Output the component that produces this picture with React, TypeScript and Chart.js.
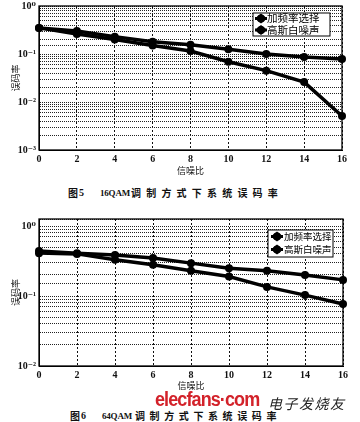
import React, { useEffect, useRef } from 'react';
import { Chart, registerables } from 'chart.js';
Chart.register(...registerables);

// ---- data ----
const snrValues = [0, 2, 4, 6, 8, 10, 12, 14, 16];
const seriesNames = ['加频率选择', '高斯白噪声'];
const ber16Freq = [0.35, 0.3, 0.23, 0.18, 0.155, 0.126, 0.1, 0.087, 0.079];
const ber16Awgn = [0.35, 0.26, 0.2, 0.15, 0.115, 0.069, 0.045, 0.026, 0.0051];
const ber64Freq = [0.44, 0.41, 0.385, 0.35, 0.295, 0.25, 0.23, 0.2, 0.17];
const ber64Awgn = [0.41, 0.4, 0.33, 0.28, 0.23, 0.19, 0.135, 0.103, 0.077];
const decadeValues = [1, 0.1, 0.01, 0.001];
const decadeLabels = ['10⁰', '10⁻¹', '10⁻²', '10⁻³'];
const xTitle = '信噪比';
const yTitle = '误码率';
const caption5 = ['图', '5', '16QAM', '调制方式下系统误码率'];
const caption6 = ['图', '6', '64QAM', '调制方式下系统误码率'];
const watermarkLatin = 'elecfans·com';
const watermarkCjk = '电子发烧友';

const serif = '"Liberation Serif", "DejaVu Serif", serif';
const cjk = '"Noto Sans CJK SC", sans-serif';

function decadeLabel(v: number) {
  const i = decadeValues.findIndex((d) => Math.abs(v - d) / d < 1e-6);
  return i >= 0 ? decadeLabels[i] : '';
}

const framePlugin = {
  id: 'frame',
  afterDatasetsDraw(chart: any) {
    const { ctx, chartArea: a } = chart;
    ctx.save();
    ctx.strokeStyle = '#000';
    ctx.lineWidth = 1.3;
    ctx.strokeRect(a.left, a.top, a.right - a.left, a.bottom - a.top);
    ctx.restore();
  },
};

type LegendOpts = {
  inset: number; dy: number; w: number; h: number;
  rows: number[]; mx: number; tx: number; font: number;
};

function makeLegendPlugin(o: LegendOpts) {
  return {
    id: 'boxLegend',
    afterDraw(chart: any) {
      const { ctx, chartArea: a } = chart;
      const x = a.right - o.inset - o.w;
      const y = a.top + o.dy;
      ctx.save();
      ctx.fillStyle = '#fff';
      ctx.fillRect(x, y, o.w, o.h);
      ctx.strokeStyle = '#000';
      ctx.lineWidth = 1;
      ctx.strokeRect(x, y, o.w, o.h);
      seriesNames.forEach((name, i) => {
        const ry = y + o.rows[i];
        const mx = x + o.mx;
        ctx.strokeStyle = '#000';
        ctx.lineWidth = 3;
        ctx.beginPath();
        ctx.moveTo(mx - 6, ry);
        ctx.lineTo(mx + 6, ry);
        ctx.stroke();
        ctx.fillStyle = '#000';
        ctx.beginPath();
        ctx.moveTo(mx, ry - 5);
        ctx.lineTo(mx + 6, ry);
        ctx.lineTo(mx, ry + 5);
        ctx.lineTo(mx - 6, ry);
        ctx.closePath();
        ctx.fill();
        ctx.beginPath();
        ctx.arc(mx, ry, 4, 0, Math.PI * 2);
        ctx.fill();
        ctx.font = `${o.font}px ${cjk}`;
        ctx.textBaseline = 'middle';
        ctx.textAlign = 'left';
        ctx.fillText(name, x + o.tx, ry);
      });
      ctx.restore();
    },
  };
}

type ChartProps = {
  top: number; height: number; padTop: number; padRight: number;
  xAxisH: number; titlePadB: number; yMin: number; yMax: number;
  freq: number[]; awgn: number[]; legend: LegendOpts;
};

function BerChart(p: ChartProps) {
  const ref = useRef<HTMLCanvasElement>(null);
  useEffect(() => {
    const mk = (label: string, vals: number[]) => ({
      label,
      data: snrValues.map((x, i) => ({ x, y: vals[i] })),
      borderColor: '#000',
      backgroundColor: '#000',
      borderWidth: 3.5,
      pointRadius: 4,
      pointBorderWidth: 0,
      pointBackgroundColor: '#000',
      tension: 0,
      clip: false as any,
    });
    const chart = new Chart(ref.current!, {
      type: 'line',
      data: { datasets: [mk(seriesNames[0], p.freq), mk(seriesNames[1], p.awgn)] },
      options: {
        animation: false,
        responsive: false,
        maintainAspectRatio: false,
        layout: { padding: { top: p.padTop, right: p.padRight, left: 0, bottom: 0 } },
        plugins: { legend: { display: false }, tooltip: { enabled: false } },
        scales: {
          x: {
            type: 'linear',
            min: snrValues[0],
            max: snrValues[snrValues.length - 1],
            afterBuildTicks: (s: any) => {
              s.ticks = snrValues.map((v) => ({ value: v }));
            },
            afterFit: (s: any) => {
              s.height = p.xAxisH;
              s.paddingLeft = 0;
              s.paddingRight = 0;
            },
            ticks: {
              autoSkip: false,
              maxRotation: 0,
              padding: 3,
              color: '#111',
              font: { family: serif, size: 10, weight: 'bold' },
            },
            grid: { color: '#111', lineWidth: 1, drawTicks: false },
            border: { display: true, color: '#000', dash: [2, 2] },
            title: {
              display: true,
              text: xTitle,
              color: '#111',
              font: { family: cjk, size: 9 },
              padding: { top: 0, bottom: p.titlePadB },
            },
          },
          y: {
            type: 'logarithmic',
            min: p.yMin,
            max: p.yMax,
            afterFit: (s: any) => {
              s.width = 39;
              s.paddingTop = 0;
              s.paddingBottom = 0;
            },
            ticks: {
              autoSkip: false,
              padding: 3,
              color: '#111',
              font: { family: serif, size: 10, weight: 'bold' },
              callback: (v: any) => decadeLabel(Number(v)),
            },
            grid: { color: '#222', lineWidth: 1, drawTicks: false },
            border: { display: true, color: '#000', dash: [1, 1] },
            title: {
              display: true,
              text: yTitle,
              color: '#111',
              font: { family: cjk, size: 9 },
              padding: { top: 10, bottom: 0 },
            },
          },
        },
      } as any,
      plugins: [framePlugin, makeLegendPlugin(p.legend)],
    });
    return () => chart.destroy();
  }, []);
  return (
    <canvas
      ref={ref}
      width={360}
      height={p.height}
      style={{ position: 'absolute', left: 0, top: p.top, width: 360, height: p.height }}
    />
  );
}

function Caption({ parts, top, lefts, spacing }: { parts: string[]; top: number; lefts: number[]; spacing: number }) {
  const base: React.CSSProperties = {
    position: 'absolute',
    top,
    fontSize: 10,
    lineHeight: '10px',
    whiteSpace: 'nowrap',
    color: '#111',
  };
  return (
    <>
      <span style={{ ...base, left: lefts[0], fontFamily: cjk, fontWeight: 700 }}>{parts[0]}</span>
      <span style={{ ...base, left: lefts[1], fontFamily: serif, fontWeight: 700 }}>{parts[1]}</span>
      <span style={{ ...base, left: lefts[2], fontFamily: serif, fontWeight: 700, fontSize: 9, letterSpacing: -0.2 }}>{parts[2]}</span>
      <span style={{ ...base, left: lefts[3], fontFamily: cjk, fontWeight: 700, letterSpacing: spacing }}>{parts[3]}</span>
    </>
  );
}

export default function App() {
  return (
    <div style={{ position: 'absolute', left: 0, top: 0, width: 360, height: 422, background: '#fff', overflow: 'hidden' }}>
      <BerChart
        top={0}
        height={180}
        padTop={6}
        padRight={18}
        xAxisH={30}
        titlePadB={4}
        yMin={0.001}
        yMax={1}
        freq={ber16Freq}
        awgn={ber16Awgn}
        legend={{ inset: 12, dy: 7, w: 77, h: 23, rows: [5.5, 17], mx: 8, tx: 14, font: 10.5 }}
      />
      <Caption parts={caption5} top={188} lefts={[68, 79, 100, 131]} spacing={5.2} />
      <BerChart
        top={204}
        height={190}
        padTop={15}
        padRight={17}
        xAxisH={28}
        titlePadB={3}
        yMin={0.01}
        yMax={1.26}
        freq={ber64Freq}
        awgn={ber64Awgn}
        legend={{ inset: 10, dy: 11, w: 65, h: 27, rows: [6.5, 19.5], mx: 9, tx: 16, font: 9.5 }}
      />
      <Caption parts={caption6} top={411} lefts={[70, 81, 102, 135]} spacing={4.6} />
      <span
        style={{
          position: 'absolute',
          left: 155,
          top: 389,
          fontFamily: '"Liberation Sans", Arial, sans-serif',
          fontWeight: 700,
          fontSize: 20,
          lineHeight: '20px',
          letterSpacing: -1,
          color: '#d3222a',
          whiteSpace: 'nowrap',
          transform: 'scaleX(0.9)',
          transformOrigin: 'left top',
        }}
      >
        {watermarkLatin}
      </span>
      <span
        style={{
          position: 'absolute',
          left: 268,
          top: 395,
          fontFamily: cjk,
          fontStyle: 'italic',
          fontSize: 14,
          lineHeight: '16px',
          letterSpacing: 1.5,
          color: '#222',
          whiteSpace: 'nowrap',
        }}
      >
        {watermarkCjk}
      </span>
    </div>
  );
}
